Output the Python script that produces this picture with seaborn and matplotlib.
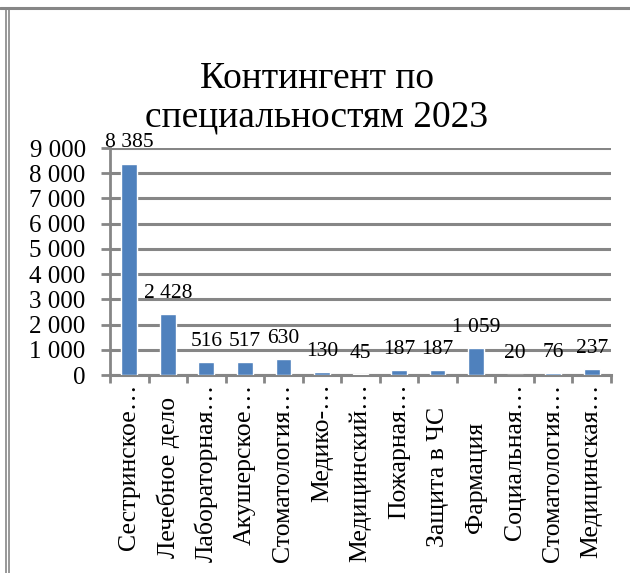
import matplotlib
matplotlib.use("Agg")
import matplotlib.pyplot as plt
import seaborn as sns
import pandas as pd
import numpy as np
from matplotlib.ticker import FixedLocator, FuncFormatter
from matplotlib.lines import Line2D
from matplotlib.transforms import blended_transform_factory

categories = ["Сестринское…", "Лечебное дело", "Лабораторная…", "Акушерское…",
              "Стоматология…", "Медико-…", "Медицинский…", "Пожарная…",
              "Защита в ЧС", "Фармация", "Социальная…", "Стоматология…",
              "Медицинская…"]
values = [8385, 2428, 516, 517, 630, 130, 45, 187, 187, 1059, 20, 76, 237]
title = "Контингент по\nспециальностям 2023"
yticks = [0, 1000, 2000, 3000, 4000, 5000, 6000, 7000, 8000, 9000]

sns.set_theme(style="white")
plt.rcParams['font.family'] = ['Liberation Serif', 'DejaVu Serif']
plt.rcParams['text.color'] = 'black'
plt.rcParams['xtick.labelcolor'] = 'black'
plt.rcParams['ytick.labelcolor'] = 'black'

GRAY = "#868686"
BAR = "#4f81bd"
XFS = 18.5

df = pd.DataFrame({"idx": [str(i) for i in range(len(categories))], "value": values})

fig = plt.figure(figsize=(6.3, 5.73), dpi=100)
ax = fig.add_axes([0.1746, 0.3455, 0.7952, 0.3962])

sns.barplot(data=df, x="idx", y="value", color=BAR, width=0.41, saturation=1,
            ax=ax, zorder=3)

ax.set_xlim(-0.5, len(categories) - 0.5)
ax.set_ylim(0, 9000)
ax.set_xlabel("")
ax.set_ylabel("")

ax.set_yticks(yticks)
ax.yaxis.set_major_formatter(FuncFormatter(lambda v, p: f"{int(v):,}".replace(",", " ")))
ax.tick_params(axis="y", labelsize=18, length=6.5, width=2, color=GRAY, direction="out",
               left=True, pad=11, labelcolor="black")

# truncated labels hang from the axis; complete labels are centred in the label band
tick_labels = [c if c.endswith("…") else "" for c in categories]
ax.set_xticks(range(len(categories)))
ax.set_xticklabels(tick_labels, rotation=90, ha="center", va="top", fontsize=XFS,
                   color="black")
ax.tick_params(axis="x", which="major", length=0, pad=6)
trans = blended_transform_factory(ax.transData, ax.transAxes)
for i, c in enumerate(categories):
    if not c.endswith("…"):
        ax.text(i, -0.45, c, rotation=90, ha="center", va="center", fontsize=XFS,
                color="black", transform=trans)

ax.xaxis.set_minor_locator(FixedLocator(np.arange(-0.5, len(categories), 1.0)))
ax.tick_params(axis="x", which="minor", length=6, width=2, color=GRAY, direction="out",
               bottom=True)

ax.grid(axis="y", color=GRAY, linewidth=2.2, zorder=0)
ax.set_axisbelow(True)
for s in ["top", "right"]:
    ax.spines[s].set_visible(False)
ax.spines["left"].set_color(GRAY)
ax.spines["left"].set_linewidth(2)
ax.spines["bottom"].set_color(GRAY)
ax.spines["bottom"].set_linewidth(2.2)

for i, v in enumerate(values):
    ax.annotate(f"{v:,}".replace(",", " "), (i, v), xytext=(0, 8),
                textcoords="offset points", ha="center", va="bottom", fontsize=15.5,
                color="black")

fig.text(0.503, 0.829, title, ha="center", va="center", fontsize=27, linespacing=1.18,
         color="black")

# chart frame
fig.add_artist(Line2D([0.0, 1.0], [0.9855, 0.9855], transform=fig.transFigure,
                      color=GRAY, linewidth=2.2))
fig.add_artist(Line2D([0.0095, 0.0095], [0.0, 0.9855], transform=fig.transFigure,
                      color=GRAY, linewidth=1.2))
fig.add_artist(Line2D([0.0140, 0.0140], [0.0, 0.9855], transform=fig.transFigure,
                      color=GRAY, linewidth=1.2))

fig.savefig("out.png", dpi=100)
